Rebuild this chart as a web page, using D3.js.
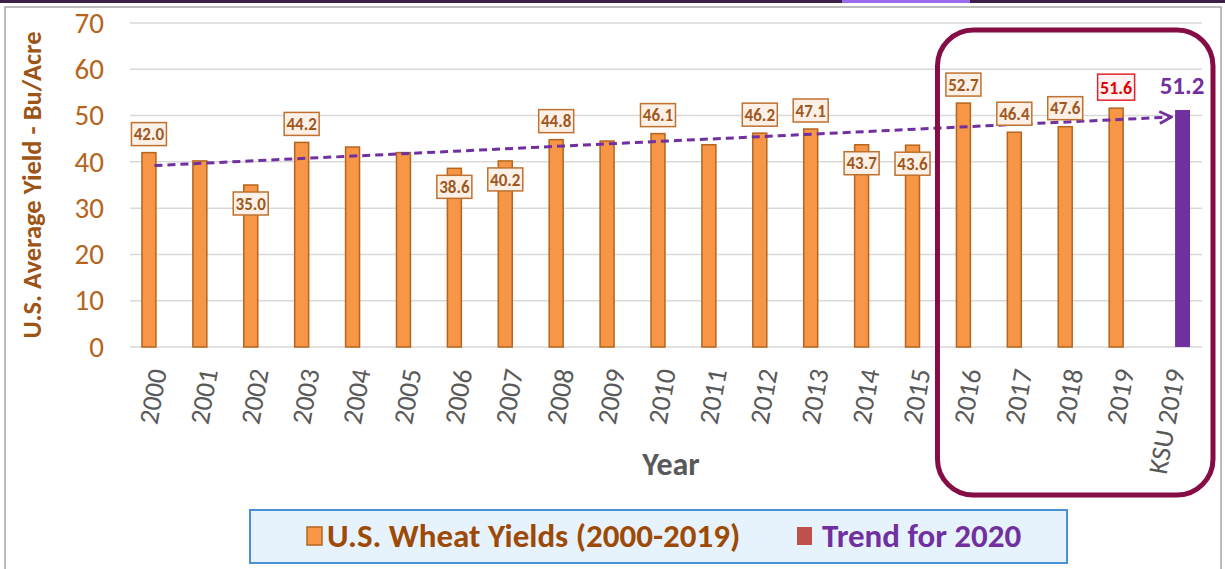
<!DOCTYPE html>
<html>
<head>
<meta charset="utf-8">
<script src="https://cdn.jsdelivr.net/npm/d3@7"></script>
<style>
  body { margin: 0; background: #fff; }
  svg { display: block; font-family: Carlito, Calibri, Lato, sans-serif; }
</style>
</head>
<body>
<svg id="chart" width="1225" height="569"></svg>
<script>
// Data
const years = ['2000','2001','2002','2003','2004','2005','2006','2007','2008','2009',
               '2010','2011','2012','2013','2014','2015','2016','2017','2018','2019'];
const usYields = [42.0, 40.2, 35.0, 44.2, 43.2, 42.0, 38.6, 40.2, 44.8, 44.5,
                  46.1, 43.7, 46.2, 47.1, 43.7, 43.6, 52.7, 46.4, 47.6, 51.6];
const ksuLabel = 'KSU 2019';
const ksuYield = 51.2;
const categories = years.concat([ksuLabel]);
const yTicks = [0, 10, 20, 30, 40, 50, 60, 70];
const trendEnds = [39.2, 49.7];        // linear trend, 2000 -> one period forward
const labelsAbove = ['2000','2003','2008','2010','2012','2013','2016','2017','2018'];
const labelsBelow = ['2002','2006','2007','2014','2015'];
const labelHighlight = '2019';

const svg = d3.select('#chart');

// slide frame bits
svg.append('rect').attr('x', 0).attr('y', 0).attr('width', 1225).attr('height', 3)
    .attr('fill', '#3d1f48');
svg.append('rect').attr('x', 842).attr('y', 0).attr('width', 128).attr('height', 3)
    .attr('fill', '#9b6cf0');
svg.append('rect').attr('x', 5).attr('y', 7).attr('width', 1216).attr('height', 580)
    .attr('fill', 'none').attr('stroke', '#a6a6a6').attr('stroke-width', 1.5);

// scales
const x = d3.scaleBand().domain(categories).range([131, 1200]);
const xs = d3.scaleBand().domain(['us', 'ksu']).range([0, x.bandwidth()])
    .paddingInner(0.07).paddingOuter(0.73);
const y = d3.scaleLinear().domain([0, 70]).range([347, 23]);

// gridlines
svg.append('g').selectAll('line')
    .data(yTicks).enter().append('line')
    .attr('x1', 130).attr('x2', 1202)
    .attr('y1', d => y(d)).attr('y2', d => y(d))
    .attr('stroke', '#d9d9d9').attr('stroke-width', 1.5);

// y axis tick labels
const yAxis = d3.axisLeft(y).tickValues(yTicks).tickSize(0).tickPadding(0);
const gY = svg.append('g').attr('transform', 'translate(104,0)').call(yAxis);
gY.select('.domain').remove();
gY.selectAll('text')
    .attr('font-family', 'Carlito, Calibri, Lato, sans-serif')
    .attr('font-size', 29).attr('fill', '#b5651d');

// y title
svg.append('text')
    .attr('transform', `translate(41, ${(y(0) + y(70)) / 2}) rotate(-90)`)
    .attr('text-anchor', 'middle')
    .attr('font-size', 26.5).attr('font-weight', 'bold').attr('fill', '#9c5516')
    .text('U.S. Average Yield - Bu/Acre');

// x tick labels
svg.append('g').selectAll('text')
    .data(categories).enter().append('text')
    .attr('transform', d => `translate(${x(d) + x.bandwidth() / 2 + 1}, 369) rotate(-80)`)
    .attr('text-anchor', 'end').attr('dy', '0.35em')
    .attr('font-size', 27.5).attr('fill', '#595959')
    .text(d => d);

// x title
svg.append('text')
    .attr('x', 671).attr('y', 475).attr('text-anchor', 'middle')
    .attr('font-size', 32).attr('font-weight', 'bold').attr('fill', '#595959')
    .text('Year');

// bars
svg.append('g').selectAll('rect')
    .data(years).enter().append('rect')
    .attr('x', (d) => x(d) + xs('us'))
    .attr('width', xs.bandwidth())
    .attr('y', (d, i) => y(usYields[i]))
    .attr('height', (d, i) => y(0) - y(usYields[i]))
    .attr('fill', '#f79646').attr('stroke', '#b5651d').attr('stroke-width', 1.5);

svg.append('rect')
    .attr('x', x(ksuLabel) + xs('ksu'))
    .attr('width', xs.bandwidth() + 1)
    .attr('y', y(ksuYield))
    .attr('height', y(0) - y(ksuYield))
    .attr('fill', '#7030a0');

// trend line
svg.append('defs').append('marker')
    .attr('id', 'arrow').attr('viewBox', '0 0 10 10')
    .attr('refX', 9).attr('refY', 5)
    .attr('markerWidth', 5).attr('markerHeight', 5)
    .attr('markerUnits', 'strokeWidth')
    .attr('orient', 'auto')
  .append('path').attr('d', 'M1,1 L9,5 L1,9')
    .attr('fill', 'none').attr('stroke', '#7030a0').attr('stroke-width', 1.8);

const trendX = [years[0], ksuLabel].map(d => x(d) + x.bandwidth() / 2);
svg.append('line')
    .attr('x1', trendX[0] - 2).attr('y1', y(trendEnds[0]))
    .attr('x2', trendX[1] - 3).attr('y2', y(trendEnds[1]))
    .attr('stroke', '#7030a0').attr('stroke-width', 3)
    .attr('stroke-dasharray', '8,5')
    .attr('marker-end', 'url(#arrow)');

// data labels
function addLabel(year, above, style) {
    let i = years.indexOf(year);
    let v = usYields[i];
    let cx = x(year) + xs('us') + xs.bandwidth() / 2;
    let cy = above ? y(v) - style.off : y(v) + style.off;
    let g = svg.append('g').attr('transform', `translate(${cx}, ${cy})`);
    g.append('rect')
        .attr('x', -style.w / 2).attr('y', -style.h / 2)
        .attr('width', style.w).attr('height', style.h)
        .attr('fill', style.fill).attr('stroke', style.stroke).attr('stroke-width', 1.5);
    g.append('text')
        .attr('text-anchor', 'middle').attr('dy', '0.36em')
        .attr('font-size', style.size).attr('font-weight', 'bold').attr('fill', style.color)
        .text(v.toFixed(1));
}
const normal = {w: 35, h: 23, off: 18.5, fill: '#fdf1e7', stroke: '#c0712f',
                color: '#a0581e', size: 17};
labelsAbove.forEach(d => addLabel(d, true, normal));
labelsBelow.forEach(d => addLabel(d, false, normal));
addLabel(labelHighlight, true, {w: 37, h: 26, off: 21, fill: '#fff3f3',
                               stroke: '#e0232b', color: '#e00000', size: 18});

svg.append('text')
    .attr('x', x(ksuLabel) + xs('ksu') + xs.bandwidth() / 2)
    .attr('y', y(ksuYield) - 16)
    .attr('text-anchor', 'middle')
    .attr('font-size', 25).attr('font-weight', 'bold').attr('fill', '#7030a0')
    .text(ksuYield.toFixed(1));

// highlight box round the last years
svg.append('rect')
    .attr('x', x('2016') - 8).attr('y', 30)
    .attr('width', x(ksuLabel) + x.bandwidth() + 13 - (x('2016') - 8))
    .attr('height', 465)
    .attr('rx', 36).attr('ry', 36)
    .attr('fill', 'none').attr('stroke', '#850c45').attr('stroke-width', 5);

// legend
const legend = svg.append('g');
legend.append('rect')
    .attr('x', 250).attr('y', 510).attr('width', 817).attr('height', 53)
    .attr('fill', '#e7f3fc').attr('stroke', '#4a90d6').attr('stroke-width', 2);
legend.append('rect')
    .attr('x', 307).attr('y', 527).attr('width', 15).attr('height', 18)
    .attr('fill', '#f79646').attr('stroke', '#b5651d').attr('stroke-width', 1.5);
legend.append('text')
    .attr('x', 327).attr('y', 547)
    .attr('font-size', 33).attr('font-weight', 'bold').attr('fill', '#9c4a06')
    .text('U.S. Wheat Yields (2000-2019)');
legend.append('rect')
    .attr('x', 797).attr('y', 527).attr('width', 15).attr('height', 18)
    .attr('fill', '#c0504d');
legend.append('text')
    .attr('x', 822).attr('y', 547)
    .attr('font-size', 33).attr('font-weight', 'bold').attr('fill', '#7030a0')
    .text('Trend for 2020');
</script>
</body>
</html>
